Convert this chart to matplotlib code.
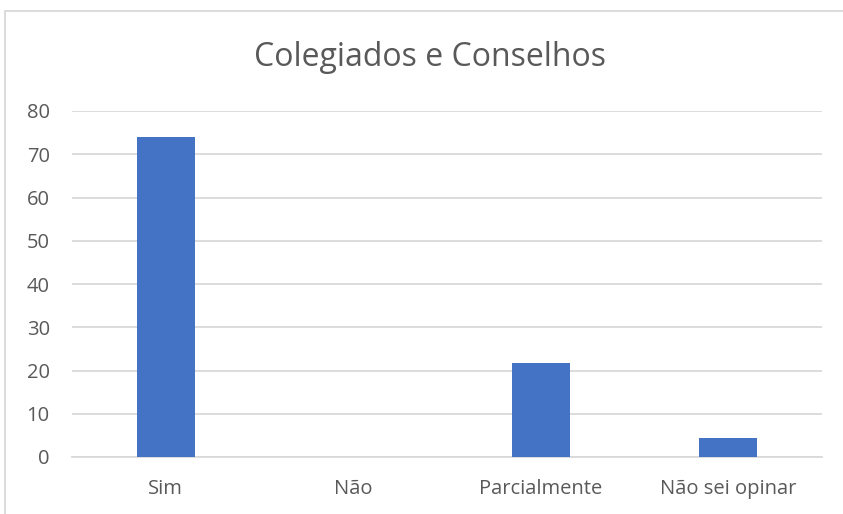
import matplotlib
matplotlib.use("Agg")
import matplotlib.pyplot as plt
from matplotlib.patches import Rectangle

categories = ["Sim", "Não", "Parcialmente", "Não sei opinar"]
values = [73.9, 0, 21.7, 4.3]
yticks = [0, 10, 20, 30, 40, 50, 60, 70, 80]
title = "Colegiados e Conselhos"

plt.rcParams['font.family'] = ['Open Sans', 'DejaVu Sans']
text_color = "#595959"
grid_color = "#D9D9D9"
bar_color = "#4472C4"

fig = plt.figure(figsize=(8.43, 5.14), dpi=100)
fig.patch.set_facecolor("white")
ax = fig.add_axes([72/843, 1-457/514, (822-72)/843, (457-111)/514])

x = range(len(categories))
ax.bar(x, values, width=0.31, color=bar_color, zorder=3)
ax.set_xlim(-0.5, len(categories)-0.5)
ax.set_ylim(0, 80)
ax.set_yticks(yticks)
ax.set_xticks(list(x))
ax.set_xticklabels(categories)
ax.yaxis.grid(True, color=grid_color, linewidth=1.3, zorder=0)
ax.set_axisbelow(True)
for s in ["top", "right", "left"]:
    ax.spines[s].set_visible(False)
ax.spines["bottom"].set_color(grid_color)
ax.spines["bottom"].set_linewidth(1.3)
ax.tick_params(axis="both", length=0, colors=text_color, labelsize=14.5)
ax.tick_params(axis="y", pad=16)
ax.tick_params(axis="x", pad=16)

fig.text(430/843, 1-57/514, title, ha="center", va="center", fontsize=23, color=text_color)

fig.patches.append(Rectangle((5/843, -0.1), 1.2, 0.1 + (1-11/514), transform=fig.transFigure,
                             fill=False, edgecolor=grid_color, linewidth=1.3))

fig.savefig("out.png", dpi=100)
